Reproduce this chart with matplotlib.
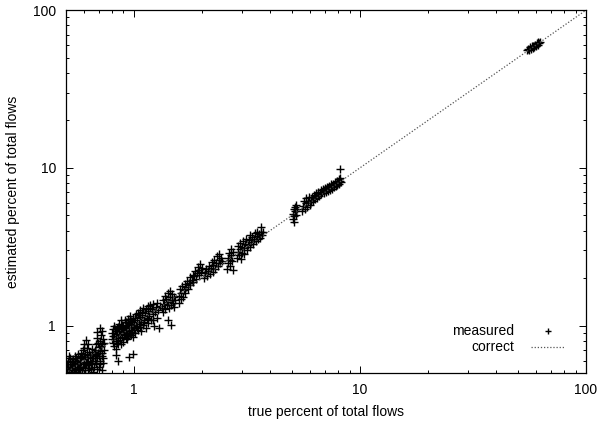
import numpy as np
import matplotlib.pyplot as plt

plt.rcParams['font.family'] = ['Liberation Sans', 'DejaVu Sans']
plt.rcParams['font.size'] = 10

# (true %, estimated %) pairs, grouped by cluster
grp_small = [(0.505, 0.51), (0.51, 0.55), (0.51, 0.60), (0.515, 0.52), (0.52, 0.57), (0.52, 0.62),
             (0.525, 0.50), (0.53, 0.54), (0.53, 0.59), (0.535, 0.52), (0.54, 0.56), (0.54, 0.61),
             (0.545, 0.53), (0.55, 0.58), (0.55, 0.64), (0.555, 0.51), (0.56, 0.55), (0.56, 0.60),
             (0.565, 0.66), (0.57, 0.53), (0.57, 0.57), (0.575, 0.62), (0.58, 0.50), (0.58, 0.55),
             (0.585, 0.59), (0.59, 0.64), (0.59, 0.52), (0.595, 0.70), (0.60, 0.57), (0.60, 0.76),
             (0.605, 0.61), (0.61, 0.54), (0.61, 0.66), (0.615, 0.81), (0.62, 0.59), (0.62, 0.72),
             (0.625, 0.52), (0.63, 0.63), (0.63, 0.56), (0.635, 0.68), (0.64, 0.60), (0.645, 0.53),
             (0.65, 0.66), (0.65, 0.71), (0.655, 0.57), (0.66, 0.62), (0.665, 0.55), (0.67, 0.64),
             (0.675, 0.70), (0.68, 0.58), (0.68, 0.76), (0.685, 0.84), (0.69, 0.62), (0.69, 0.91),
             (0.695, 0.67), (0.70, 0.55), (0.70, 0.73), (0.705, 0.80), (0.705, 0.97), (0.71, 0.60),
             (0.71, 0.69), (0.715, 0.87), (0.72, 0.64), (0.72, 0.76), (0.725, 0.52), (0.73, 0.58),
             (0.73, 0.82), (0.735, 0.70),
             (0.50, 0.53), (0.505, 0.57), (0.515, 0.64), (0.525, 0.55), (0.53, 0.51), (0.535, 0.60),
             (0.545, 0.57), (0.55, 0.52), (0.555, 0.62), (0.565, 0.50), (0.565, 0.58), (0.575, 0.54),
             (0.58, 0.63), (0.585, 0.67), (0.595, 0.55), (0.60, 0.62), (0.605, 0.72), (0.61, 0.50),
             (0.615, 0.58), (0.62, 0.65), (0.625, 0.77), (0.635, 0.54), (0.64, 0.65), (0.645, 0.58),
             (0.655, 0.62), (0.66, 0.51), (0.665, 0.68), (0.675, 0.60), (0.68, 0.66), (0.69, 0.53),
             (0.695, 0.78), (0.70, 0.64), (0.71, 0.57), (0.715, 0.74), (0.72, 0.92), (0.725, 0.67),
             (0.73, 0.62), (0.735, 0.78)]

grp_one = [(0.80, 0.82), (0.80, 0.90), (0.81, 0.78), (0.81, 0.95), (0.82, 0.86), (0.82, 1.00),
           (0.83, 0.80), (0.83, 0.92), (0.84, 0.88), (0.84, 0.97), (0.85, 0.76), (0.85, 0.84),
           (0.86, 0.93), (0.86, 1.03), (0.87, 0.81), (0.87, 0.89), (0.88, 0.96), (0.88, 1.08),
           (0.89, 0.85), (0.89, 0.91), (0.90, 0.79), (0.90, 1.00), (0.91, 0.87), (0.91, 0.94),
           (0.92, 1.05), (0.92, 0.83), (0.93, 0.98), (0.93, 0.90), (0.94, 1.10), (0.94, 0.86),
           (0.95, 0.94), (0.95, 1.02), (0.96, 0.88), (0.96, 1.15), (0.97, 0.97), (0.97, 1.07),
           (0.98, 0.91), (0.98, 1.01), (0.99, 1.12), (0.99, 0.85), (1.00, 0.96), (1.00, 1.05),
           (1.01, 0.90), (1.02, 1.18), (1.02, 1.00), (1.03, 1.09), (1.04, 0.94), (1.04, 1.21),
           (1.05, 1.03), (1.06, 1.13), (1.06, 0.98), (1.07, 1.25), (1.08, 1.06), (1.08, 0.92),
           (1.09, 1.16), (1.10, 1.01), (1.10, 1.30), (1.11, 1.09), (1.12, 1.20), (1.13, 0.97),
           (1.14, 1.12), (1.15, 1.33), (1.15, 1.04), (1.16, 1.24), (1.17, 1.15), (1.18, 1.36),
           (1.19, 1.08), (1.20, 1.27), (1.21, 1.18), (1.22, 1.38), (1.23, 1.00), (1.24, 1.22),
           (1.25, 1.31), (1.26, 1.12), (1.27, 1.40), (1.28, 1.25), (1.29, 0.96), (1.30, 1.33),
           (0.805, 0.86), (0.815, 0.74), (0.825, 0.95), (0.835, 0.84), (0.845, 0.78), (0.855, 0.98),
           (0.865, 0.87), (0.875, 0.77), (0.885, 1.01), (0.895, 0.95), (0.905, 0.88), (0.915, 1.09),
           (0.925, 0.93), (0.935, 0.82), (0.945, 1.04), (0.955, 0.90), (0.965, 1.10), (0.975, 0.87),
           (0.985, 1.06), (0.995, 0.98), (1.01, 1.12), (1.03, 0.97), (1.05, 1.16), (1.07, 1.02),
           (1.09, 1.22), (1.11, 1.05), (1.13, 1.27), (1.16, 1.10), (1.18, 1.29), (1.21, 1.08),
           # underestimates
           (0.83, 0.71), (0.83, 0.65), (0.85, 0.60), (0.95, 0.63), (0.99, 0.66)]

grp_mid = [(1.33, 1.30), (1.34, 1.45), (1.35, 1.22), (1.36, 1.38), (1.37, 1.55), (1.38, 1.27),
           (1.39, 1.48), (1.40, 1.35), (1.41, 1.62), (1.42, 1.42), (1.43, 1.29), (1.44, 1.51),
           (1.45, 1.66), (1.46, 1.36), (1.47, 1.45), (1.48, 1.58), (1.49, 1.40), (1.50, 1.52),
           (1.51, 1.31), (1.52, 1.46), (1.42, 1.08), (1.46, 1.01),
           (1.58, 1.40), (1.59, 1.55), (1.60, 1.70), (1.61, 1.48), (1.62, 1.62), (1.63, 1.78),
           (1.65, 1.52), (1.66, 1.68), (1.68, 1.84), (1.69, 1.60), (1.70, 1.75), (1.72, 1.92),
           (1.74, 1.70), (1.75, 1.86), (1.77, 2.02), (1.78, 1.80), (1.80, 1.95), (1.82, 2.10),
           (1.83, 1.88), (1.85, 2.05), (1.87, 2.22), (1.88, 1.98), (1.90, 2.14), (1.92, 2.35),
           (1.94, 2.08), (1.95, 2.25), (1.97, 2.45), (1.99, 2.18), (2.00, 2.32),
           (2.05, 2.00), (2.07, 2.15), (2.09, 2.30), (2.11, 2.05), (2.13, 2.22), (2.15, 2.40),
           (2.17, 2.12), (2.19, 2.32), (2.21, 2.52), (2.23, 2.20), (2.25, 2.42), (2.27, 2.62),
           (2.29, 2.30), (2.31, 2.50), (2.33, 2.75), (2.35, 2.40), (2.37, 2.60), (2.39, 2.85),
           (2.41, 2.48), (2.43, 2.70), (2.45, 2.58)]

grp_three = [(2.58, 2.30), (2.60, 2.50), (2.62, 2.70), (2.63, 2.90), (2.65, 2.40), (2.67, 2.62),
             (2.69, 3.05), (2.70, 2.80), (2.72, 2.55), (2.74, 2.95), (2.75, 2.25),
             (2.86, 2.70), (2.88, 2.95), (2.90, 3.20), (2.92, 2.80), (2.94, 3.05), (2.96, 3.35),
             (2.98, 2.65), (3.00, 2.90), (3.02, 3.15), (3.04, 3.45), (3.06, 2.85), (3.08, 3.10),
             (3.10, 3.30), (3.13, 3.55), (3.16, 3.00), (3.19, 3.25), (3.22, 3.50), (3.25, 3.75),
             (3.28, 3.15), (3.31, 3.40), (3.34, 3.65), (3.37, 3.30), (3.40, 3.55), (3.43, 3.85),
             (3.46, 3.45), (3.49, 3.70), (3.52, 3.95), (3.55, 3.55), (3.58, 3.80), (3.61, 3.60),
             (3.64, 3.90), (3.66, 4.20), (3.70, 3.75), (3.74, 3.95)]

grp_five = [(5.05, 4.75), (5.08, 5.10), (5.10, 5.45), (5.12, 4.95), (5.15, 5.30), (5.18, 5.65),
            (5.20, 5.85), (5.22, 5.05), (5.25, 5.50), (5.13, 4.55),
            (5.55, 5.30), (5.60, 5.75), (5.65, 6.20), (5.70, 5.50), (5.75, 5.95), (5.80, 6.40),
            (5.85, 5.65), (5.90, 6.10), (5.95, 6.55), (6.00, 5.85), (6.05, 6.30), (6.10, 6.05),
            (6.15, 6.50), (6.20, 6.20), (6.25, 6.75), (6.30, 6.35), (6.35, 6.60), (6.40, 6.90),
            (6.45, 6.45), (6.50, 6.75), (6.55, 7.05), (6.60, 6.60), (6.65, 6.90), (6.70, 7.20),
            (6.75, 6.80), (6.80, 7.05), (6.85, 7.35), (6.90, 6.95), (6.95, 7.20), (7.00, 7.45),
            (7.05, 7.05), (7.10, 7.30), (7.15, 7.60), (7.20, 7.15), (7.25, 7.45), (7.30, 7.70),
            (7.35, 7.25), (7.40, 7.55), (7.45, 7.85), (7.50, 7.40), (7.55, 7.70), (7.60, 7.95),
            (7.65, 7.55), (7.70, 7.80), (7.75, 8.10), (7.80, 7.65), (7.85, 7.95), (7.90, 8.25),
            (7.95, 7.80), (8.00, 8.10), (8.05, 8.45), (8.10, 7.95), (8.15, 8.30), (8.20, 8.65),
            (8.25, 8.15), (8.20, 9.90)]

grp_big = [(55.0, 55.5), (55.5, 57.0), (56.0, 56.0), (56.5, 58.0), (57.0, 57.0), (57.5, 59.0),
           (58.0, 57.5), (58.5, 59.5), (59.0, 58.5), (59.5, 60.5), (60.0, 59.5), (60.5, 61.5),
           (61.0, 60.5), (61.5, 62.5), (62.0, 61.5), (62.5, 63.0)]

pts = np.array(grp_small + grp_one + grp_mid + grp_three + grp_five + grp_big)
true_pct = pts[:, 0]
est_pct = pts[:, 1]

lo, hi = 0.5, 100

fig = plt.figure(figsize=(5.98, 4.23), dpi=100)
ax = fig.add_axes([0.110, 0.118, 0.870, 0.858])

ax.plot(true_pct, est_pct, '+', color='black', markersize=5.2, markeredgewidth=1.0,
        label='measured')
ax.plot([lo, hi], [lo, hi], color='#555555', linewidth=0.9, linestyle=(0, (1, 1.5)),
        label='correct')

ax.set_xscale('log')
ax.set_yscale('log')
ax.set_xlim(lo, hi)
ax.set_ylim(lo, hi)
ax.set_xticks([1, 10, 100])
ax.set_xticklabels(['1', '10', '100'])
ax.set_yticks([1, 10, 100])
ax.set_yticklabels(['1', '10', '100'])
ax.tick_params(which='both', direction='in', top=True, right=True, width=0.7)
ax.tick_params(which='major', length=5, pad=7, labelsize=10)
ax.tick_params(which='minor', length=2.5)
for s in ax.spines.values():
    s.set_linewidth(0.9)

ax.set_xlabel('true percent of total flows', labelpad=6)
ax.set_ylabel('estimated percent of total flows', labelpad=9)

leg = ax.legend(loc='lower right', frameon=False, markerfirst=False, handlelength=2.4,
                borderaxespad=0.6, labelspacing=0.15, handletextpad=1.2, numpoints=1,
                bbox_to_anchor=(0.985, 0.013))
leg.legend_handles[0].set_markersize(4)

fig.savefig('out.png', dpi=100)
